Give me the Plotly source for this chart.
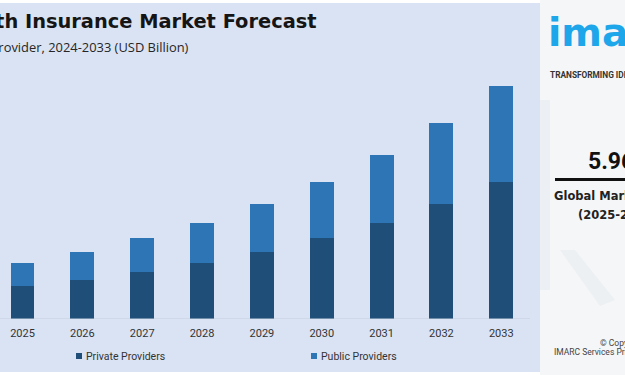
import plotly.graph_objects as go

# ---- data ----
years = ["2025", "2026", "2027", "2028", "2029", "2030", "2031", "2032", "2033"]
private_providers = [489, 582, 697, 834, 997, 1196, 1423, 1704, 2030.0]
public_providers = [345, 415, 499, 589, 707, 834, 1003, 1201, 1427.98]
series_names = ["Private Providers", "Public Providers"]
series_colors = ["#1F4E79", "#2E75B6"]

W, H = 625, 375


def px(x):
    return x / W


def py(y):
    return 1 - y / H


fig = go.Figure()
for name, vals, col in zip(series_names, [private_providers, public_providers], series_colors):
    fig.add_trace(go.Bar(x=years, y=vals, name=name, marker=dict(color=col, line=dict(width=0)),
                         width=0.4, showlegend=False, hoverinfo="x+y+name"))

total_last = private_providers[-1] + public_providers[-1]

shapes = [
    # chart panel background
    dict(type="rect", xref="paper", yref="paper", x0=0, x1=px(540), y0=py(372), y1=py(3),
         fillcolor="#DAE3F3", line=dict(width=0), layer="below"),
    # right panel background
    dict(type="rect", xref="paper", yref="paper", x0=px(540), x1=1, y0=0, y1=1,
         fillcolor="#F5F6F8", line=dict(width=0), layer="below"),
    dict(type="path", xref="paper", yref="paper",
         path=f"M {px(540)},{py(100)} L {px(550)},{py(100)} L {px(550)},{py(290)} L {px(540)},{py(290)} Z",
         fillcolor="#ECEFF3", line=dict(width=0), layer="below"),
    dict(type="path", xref="paper", yref="paper",
         path=f"M {px(560)},{py(250)} L {px(575)},{py(250)} L {px(615)},{py(300)} L {px(600)},{py(306)} Z",
         fillcolor="#EDF0F3", line=dict(width=0), layer="below"),
    # axis baseline
    dict(type="line", xref="paper", yref="y", x0=0, x1=px(530), y0=0, y1=0,
         line=dict(color="#C3CDDC", width=1)),
    # black rule under growth rate
    dict(type="line", xref="paper", yref="paper", x0=px(555), x1=1, y0=py(179.5), y1=py(179.5),
         line=dict(color="#111111", width=3)),
    # legend swatches
    dict(type="rect", xref="paper", yref="paper", x0=px(76), x1=px(82), y0=py(359), y1=py(353),
         fillcolor=series_colors[0], line=dict(width=0)),
    dict(type="rect", xref="paper", yref="paper", x0=px(311), x1=px(317), y0=py(359), y1=py(353),
         fillcolor=series_colors[1], line=dict(width=0)),
]

annotations = [
    dict(text="<b>Health Insurance Market Forecast</b>", x=px(319), y=py(22), xanchor="right",
         yanchor="middle", font=dict(family="DejaVu Sans", size=19.4, color="#151515")),
    dict(text="Breakup by Provider, 2024-2033 (USD Billion)", x=px(191), y=py(47), xanchor="right",
         yanchor="middle", font=dict(family="Open Sans", size=12.9, color="#262626")),
    dict(text=f"<b>USD<br>{total_last:,.2f} B</b>", xref="x", yref="y", x=years[-1], y=total_last,
         yanchor="bottom", yshift=5, showarrow=False,
         font=dict(family="Roboto", size=11, color="#1a1a1a")),
    dict(text=series_names[0], x=px(84), y=py(356), xanchor="left", yanchor="middle",
         font=dict(family="Roboto", size=10.5, color="#333333")),
    dict(text=series_names[1], x=px(319), y=py(356), xanchor="left", yanchor="middle",
         font=dict(family="Roboto", size=10.5, color="#333333")),
    # right panel
    dict(text="<b>imarc</b>", x=px(546), y=py(33), xanchor="left", yanchor="middle",
         font=dict(family="DejaVu Sans", size=39, color="#1EA6EA")),
    dict(text="<b>TRANSFORMING IDEAS INTO IMPACT</b>", x=px(548), y=py(75), xanchor="left",
         yanchor="middle", font=dict(family="Roboto", size=8.3, color="#333333")),
    dict(text="<b>5.96%</b>", x=px(586), y=py(162), xanchor="left", yanchor="middle",
         font=dict(family="Roboto", size=23, color="#111111")),
    dict(text="<b>Global Market Growth Rate</b>", x=px(552), y=py(196), xanchor="left",
         yanchor="middle", font=dict(family="DejaVu Sans", size=11.5, color="#222222")),
    dict(text="<b>(2025-2033)</b>", x=px(576), y=py(215), xanchor="left", yanchor="middle",
         font=dict(family="DejaVu Sans", size=11.5, color="#222222")),
    dict(text="© Copyright", x=px(598), y=py(343), xanchor="left", yanchor="middle",
         font=dict(family="Roboto", size=8.5, color="#444444")),
    dict(text="IMARC Services Private Limited", x=px(552), y=py(352), xanchor="left",
         yanchor="middle", font=dict(family="Roboto", size=8.5, color="#444444")),
]
for a in annotations:
    a.setdefault("xref", "paper")
    a.setdefault("yref", "paper")
    a.setdefault("showarrow", False)

ymax = 3838
fig.update_layout(
    width=W, height=H, autosize=False,
    margin=dict(l=0, r=0, t=0, b=0, pad=0),
    paper_bgcolor="#FFFFFF", plot_bgcolor="rgba(0,0,0,0)",
    barmode="stack",
    xaxis=dict(type="category", domain=[0, px(540)], range=[-0.376, 8.647],
               showgrid=False, zeroline=False, showline=False,
               ticks="outside", ticklen=4, tickcolor="rgba(0,0,0,0)",
               tickfont=dict(family="Roboto", size=11, color="#333333")),
    yaxis=dict(domain=[py(319), py(60)], range=[0, ymax], visible=False, fixedrange=True),
    shapes=shapes, annotations=annotations,
    showlegend=False,
)

fig.write_html("out.html", config={"displayModeBar": False},
               post_script="document.body.style.margin='0';document.body.style.overflow='hidden';")
